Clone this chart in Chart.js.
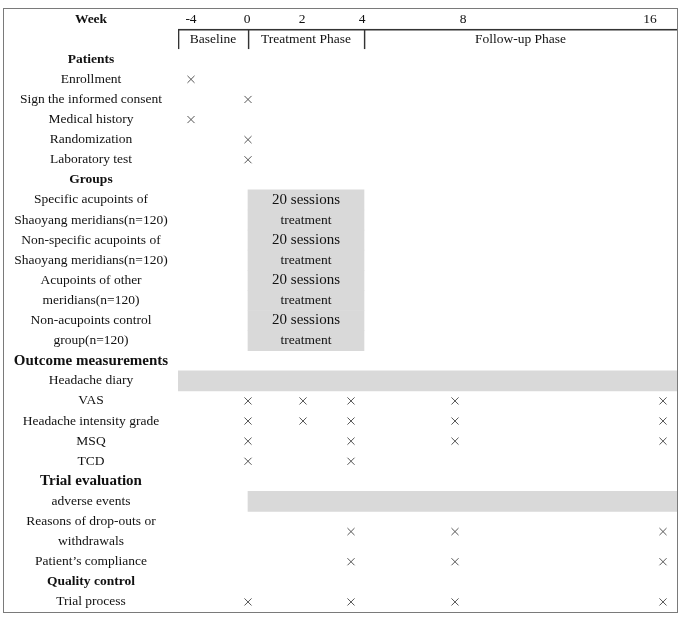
<!DOCTYPE html>
<html>
<head>
<meta charset="utf-8">
<script src="https://cdn.jsdelivr.net/npm/chart.js@4.4.1/dist/chart.umd.min.js"></script>
<style>
  html, body { margin: 0; background: #fff; }
  #box { position: absolute; left: 3px; top: 8px; width: 673px; height: 603px; border: 1px solid #7a7a7a; }
  canvas { display: block; }
</style>
</head>
<body>
<div id="box"><canvas id="c" width="673" height="603"></canvas></div>
<script>
// ---- data ----
const weeks = [-4, 0, 2, 4, 8, 16];
const weekLabels = ['-4', '0', '2', '4', '8', '16'];

const rowLabels = [
  'Week', '', 'Patients', 'Enrollment', 'Sign the informed consent', 'Medical history',
  'Randomization', 'Laboratory test', 'Groups',
  'Specific acupoints of', 'Shaoyang meridians(n=120)',
  'Non-specific acupoints of', 'Shaoyang meridians(n=120)',
  'Acupoints of other', 'meridians(n=120)',
  'Non-acupoints control', 'group(n=120)',
  'Outcome measurements', 'Headache diary', 'VAS', 'Headache intensity grade', 'MSQ', 'TCD',
  'Trial evaluation', 'adverse events', 'Reasons of drop-outs or', 'withdrawals',
  'Patient\u2019s compliance', 'Quality control', 'Trial process'
];

const phaseNames = ['Baseline', 'Treatment Phase', 'Follow-up Phase'];
const phaseStart = [-4, 0, 4];
const phaseEnd = [0, 4, 16];

// 4 groups, 2 text lines each, 20 sessions of treatment from week 0 to 4
const treatmentRows = [9, 10, 11, 12, 13, 14, 15, 16];
const treatmentSpan = [0, 4];
const treatmentText = ['20 sessions', 'treatment'];
const diaryRow = 18, diarySpan = [-4, 16];
const adverseRow = 24, adverseSpan = [0, 16];

// visit marks (weeks) per row
const enrollment = [-4];
const consent = [0];
const history = [-4];
const randomization = [0];
const labTest = [0];
const vas = [0, 2, 4, 8, 16];
const intensity = [0, 2, 4, 8, 16];
const msq = [0, 4, 8, 16];
const tcd = [0, 4];
const dropouts = [4, 8, 16];
const compliance = [4, 8, 16];
const trialProcess = [0, 4, 8, 16];

const markRows = [
  [3, enrollment], [4, consent], [5, history], [6, randomization], [7, labTest],
  [19, vas], [20, intensity], [21, msq], [22, tcd],
  [25.5, dropouts], [27, compliance], [29, trialProcess]
];

// ---- layout / style ----
const FONT = "'Liberation Serif', 'Times New Roman', serif";
const AREA_W = 499;
// column positions (px from left of plot area) for each week
const anchors = {
  xPhase: [[-4, 0], [0, 70], [4, 186], [16, 499]],
  xMark: [[-4, 13], [0, 70], [2, 125], [4, 173], [8, 277], [16, 485]],
  xHead: [[-4, 13], [0, 69], [2, 124], [4, 184], [8, 285], [16, 472]]
};
const boldRows = { 0: 13.5, 2: 13.5, 8: 13.5, 17: 15, 23: 15, 28: 13.5 };

function rowFont(i) {
  return boldRows[i] ? { family: FONT, size: boldRows[i], weight: 'bold' }
                     : { family: FONT, size: 13.5, weight: 'normal' };
}

class ColumnScale extends Chart.LinearScale {
  getPixelForValue(v) {
    const a = anchors[this.id];
    let i = 1;
    while (i < a.length - 1 && v > a[i][0]) i++;
    const [v0, p0] = a[i - 1], [v1, p1] = a[i];
    const px = p0 + (v - v0) * (p1 - p0) / (v1 - v0);
    return this.getPixelForDecimal(px / AREA_W);
  }
}
ColumnScale.id = 'column';
ColumnScale.defaults = Chart.LinearScale.defaults;
Chart.register(ColumnScale);

// centre the row labels in the left column
const m = document.createElement('canvas').getContext('2d');
let widest = 0;
rowLabels.forEach((t, i) => {
  const f = rowFont(i);
  m.font = f.weight + ' ' + f.size + 'px ' + FONT;
  widest = Math.max(widest, m.measureText(t).width);
});
const yPad = 87 - widest / 2;

const barText = {
  id: 'barText',
  afterDatasetsDraw(chart) {
    const ctx = chart.ctx;
    chart.data.datasets.forEach((ds, i) => {
      if (!ds.texts) return;
      chart.getDatasetMeta(i).data.forEach((el, j) => {
        const t = ds.texts[j];
        if (!t) return;
        const p = el.getCenterPoint();
        ctx.save();
        ctx.font = (typeof ds.textSize === 'function' ? ds.textSize(t) : ds.textSize) + 'px ' + FONT;
        ctx.fillStyle = '#111';
        ctx.textAlign = 'center';
        ctx.textBaseline = 'middle';
        ctx.fillText(t, p.x, p.y);
        ctx.restore();
      });
    });
  }
};

const markPoints = [];
markRows.forEach(([row, ws]) => ws.forEach(w => markPoints.push({ x: w, y: row })));

const grayData = treatmentRows.map(r => ({ y: r, x: treatmentSpan }))
  .concat([{ y: diaryRow, x: diarySpan }, { y: adverseRow, x: adverseSpan }]);
const grayText = treatmentRows.map((r, i) => treatmentText[i % 2]).concat(['', '']);

new Chart(document.getElementById('c'), {
  type: 'bar',
  data: {
    datasets: [
      {
        type: 'scatter', xAxisID: 'xMark', yAxisID: 'y', data: markPoints,
        showLine: false, pointStyle: 'crossRot', pointRadius: 5,
        borderColor: '#555', pointBorderColor: '#555', pointBorderWidth: 1,
        backgroundColor: 'rgba(0,0,0,0)'
      },
      {
        type: 'bar', indexAxis: 'y', grouped: false, xAxisID: 'xPhase', yAxisID: 'y',
        data: phaseNames.map((_, i) => ({ y: 1, x: [phaseStart[i], phaseEnd[i]] })),
        backgroundColor: 'rgba(0,0,0,0)', borderColor: '#333',
        borderWidth: { top: 1, left: 1, right: 0, bottom: 0 }, borderSkipped: false,
        barPercentage: 1, categoryPercentage: 1,
        texts: phaseNames, textSize: 13.5
      },
      {
        type: 'bar', indexAxis: 'y', grouped: false, xAxisID: 'xPhase', yAxisID: 'y',
        data: grayData, backgroundColor: '#d9d9d9', borderWidth: 0,
        barPercentage: 1, categoryPercentage: 1,
        texts: grayText, textSize: t => (t === treatmentText[0] ? 15 : 13.5)
      }
    ]
  },
  options: {
    responsive: false,
    animation: false,
    events: [],
    layout: { padding: 0, autoPadding: false },
    plugins: { legend: { display: false }, tooltip: { enabled: false } },
    scales: {
      y: {
        type: 'linear', position: 'left', reverse: true, offset: false,
        min: -0.5, max: rowLabels.length - 0.5,
        afterBuildTicks: s => { s.ticks = rowLabels.map((_, i) => ({ value: i })); },
        afterFit: s => { s.width = 174; s.paddingTop = 0; s.paddingBottom = 0; },
        grid: { display: false, drawTicks: false, offset: false }, border: { display: false },
        ticks: {
          autoSkip: false, padding: yPad, crossAlign: 'center', color: '#111',
          font: ctx => rowFont(ctx.index),
          callback: (v, i) => rowLabels[i]
        }
      },
      xHead: {
        type: 'column', axis: 'x', position: { y: -0.5 }, min: -4, max: 16, offset: false,
        afterBuildTicks: s => { s.ticks = weeks.map(v => ({ value: v })); },
        afterFit: s => { s.height = 0; s.paddingLeft = 0; s.paddingRight = 0; },
        grid: { display: false, drawTicks: false }, border: { display: false },
        ticks: {
          autoSkip: false, maxRotation: 0, minRotation: 0, padding: 2, color: '#111',
          font: { family: FONT, size: 13.5 },
          callback: (v, i) => weekLabels[i]
        }
      },
      xMark: { type: 'column', axis: 'x', display: false, offset: false },
      xPhase: { type: 'column', axis: 'x', display: false, offset: false }
    }
  },
  plugins: [barText]
});
</script>
</body>
</html>
